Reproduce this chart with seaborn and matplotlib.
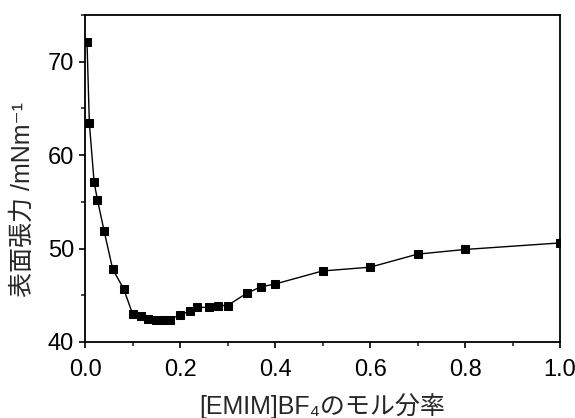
import matplotlib
matplotlib.use("Agg")
import matplotlib.pyplot as plt
import seaborn as sns
import pandas as pd
from matplotlib.ticker import MultipleLocator

x_frac = [0.004, 0.009, 0.019, 0.026, 0.04, 0.058, 0.081, 0.10, 0.118, 0.132,
          0.15, 0.166, 0.178, 0.20, 0.22, 0.235, 0.26, 0.28, 0.30, 0.34, 0.37,
          0.40, 0.50, 0.60, 0.70, 0.80, 1.00]
tension = [72.1, 63.4, 57.1, 55.2, 51.9, 47.8, 45.7, 43.0, 42.8, 42.5,
           42.4, 42.4, 42.4, 42.9, 43.3, 43.7, 43.7, 43.9, 43.9, 45.2, 45.9,
           46.2, 47.6, 48.0, 49.4, 49.9, 50.6]
xticks = [0.0, 0.2, 0.4, 0.6, 0.8, 1.0]
yticks = [40, 50, 60, 70]

df = pd.DataFrame({"x": x_frac, "y": tension})

sns.set_theme(style="ticks")
plt.rcParams['font.family'] = ['Liberation Sans', 'Noto Sans CJK JP', 'DejaVu Sans']

fig = plt.figure(figsize=(5.75, 4.18), dpi=100)
ax = fig.add_axes([0.148, 0.182, 0.826, 0.782])

sns.lineplot(data=df, x="x", y="y", ax=ax, color="black", linewidth=1.0,
             marker="s", markersize=6, markeredgecolor="black",
             markerfacecolor="black", sort=False)

ax.set_xlim(0, 1.0)
ax.set_ylim(40, 75)
ax.set_xticks(xticks)
ax.set_xticklabels([f"{t:.1f}" for t in xticks])
ax.set_yticks(yticks)
ax.set_yticklabels([str(t) for t in yticks])
ax.xaxis.set_minor_locator(MultipleLocator(0.1))
ax.yaxis.set_minor_locator(MultipleLocator(5))

for s in ax.spines.values():
    s.set_linewidth(1.3)
    s.set_color("black")

ax.tick_params(axis="both", which="major", direction="out", length=4, width=1.2,
               labelsize=17, colors="black", pad=4)
ax.tick_params(axis="x", which="major", pad=8)
ax.tick_params(axis="both", which="minor", direction="out", length=3, width=1.2)

ax.set_xlabel("[EMIM]BF\u2084のモル分率", fontsize=18)
ax.set_ylabel("表面張力 /mNm\u207b\u00b9", fontsize=18)
ax.xaxis.set_label_coords(0.5, -0.158)
ax.yaxis.set_label_coords(-0.106, 0.434)

fig.savefig("out.png", dpi=100)
